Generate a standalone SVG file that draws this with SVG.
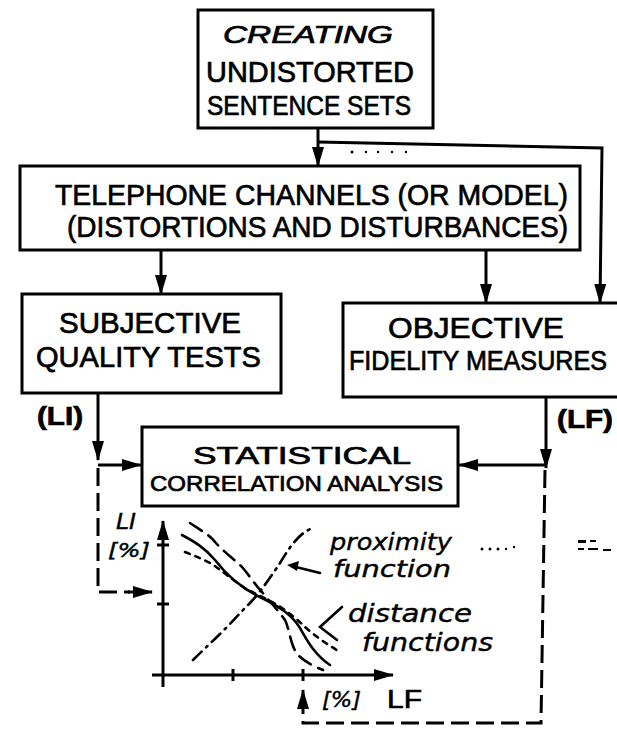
<svg xmlns="http://www.w3.org/2000/svg" width="617" height="732" viewBox="0 0 617 732">
  <defs>
    <marker id="arr" viewBox="0 0 20 12" refX="19" refY="6" markerWidth="20" markerHeight="12" markerUnits="userSpaceOnUse" orient="auto">
      <path d="M0,0 L20,6 L0,12 z" fill="#000"/>
    </marker>
    <style>
      .box { fill: #fff; stroke: #000; stroke-width: 3; }
      .ln { fill: none; stroke: #000; stroke-width: 3; }
      .dash { fill: none; stroke: #000; stroke-width: 3; stroke-dasharray: 18 7; }
      .cap { font-family: "Liberation Sans", "DejaVu Sans", sans-serif; fill: #000; stroke: #000; stroke-width: 0.7; }
      .hand { font-family: "DejaVu Sans", "Liberation Sans", sans-serif; font-style: italic; fill: #000; stroke: #000; stroke-width: 0.4; }
      .crv { fill: none; stroke: #000; stroke-width: 2.6; stroke-linecap: round; }
    </style>
  </defs>
  <rect width="617" height="732" fill="#fff"/>

  <!-- nodes -->
  <g id="create">
    <rect class="box" x="198" y="10" width="235" height="118"/>
    <text class="cap" x="223" y="43" font-size="23" font-style="italic" textLength="170" lengthAdjust="spacingAndGlyphs">CREATING</text>
    <text class="cap" x="206" y="82" font-size="29" textLength="208" lengthAdjust="spacingAndGlyphs">UNDISTORTED</text>
    <text class="cap" x="207" y="115" font-size="28" textLength="204" lengthAdjust="spacingAndGlyphs">SENTENCE SETS</text>
  </g>

  <g id="channels">
    <rect class="box" x="20" y="166" width="560" height="84"/>
    <text class="cap" x="55" y="205" font-size="30" textLength="513" lengthAdjust="spacingAndGlyphs">TELEPHONE CHANNELS (OR MODEL)</text>
    <text class="cap" x="67" y="237" font-size="30" textLength="501" lengthAdjust="spacingAndGlyphs">(DISTORTIONS AND DISTURBANCES)</text>
  </g>

  <g id="subjective">
    <rect class="box" x="22" y="294" width="259" height="99"/>
    <text class="cap" x="59" y="333" font-size="29" textLength="182" lengthAdjust="spacingAndGlyphs">SUBJECTIVE</text>
    <text class="cap" x="36" y="367" font-size="29" textLength="225" lengthAdjust="spacingAndGlyphs">QUALITY TESTS</text>
  </g>

  <g id="objective">
    <rect class="box" x="343" y="303" width="290" height="94"/>
    <text class="cap" x="388" y="338" font-size="29" textLength="176" lengthAdjust="spacingAndGlyphs">OBJECTIVE</text>
    <text class="cap" x="349" y="370" font-size="27" textLength="258" lengthAdjust="spacingAndGlyphs">FIDELITY MEASURES</text>
  </g>

  <g id="statistical">
    <rect class="box" x="142" y="427" width="316" height="79"/>
    <text class="cap" x="193" y="464" font-size="24" textLength="218" lengthAdjust="spacingAndGlyphs">STATISTICAL</text>
    <text class="cap" x="150" y="491" font-size="22" textLength="293" lengthAdjust="spacingAndGlyphs">CORRELATION ANALYSIS</text>
  </g>

  <!-- connectors -->
  <g id="connectors">
    <path class="ln" d="M318,128 V166" marker-end="url(#arr)"/>
    <path class="ln" d="M318,142 L602,148 L600,303" marker-end="url(#arr)"/>
    <path class="ln" d="M161,250 V294" marker-end="url(#arr)"/>
    <path class="ln" d="M486,250 V303" marker-end="url(#arr)"/>
    <path class="ln" d="M98,393 V460" marker-end="url(#arr)"/>
    <path class="ln" d="M98,465 H141" marker-end="url(#arr)"/>
    <path class="ln" d="M546,397 V468" marker-end="url(#arr)"/>
    <path class="ln" d="M546,465 H459" marker-end="url(#arr)"/>
    <path class="dash" d="M98,468 V592 H130"/>
    <path class="ln" d="M128,592 H152" marker-end="url(#arr)"/>
    <path class="dash" d="M545,470 L541,723 H303 V712"/>
    <path class="ln" d="M303,712 V690" marker-end="url(#arr)"/>
    <text class="cap" x="37" y="425" font-size="25" font-weight="bold" textLength="46" lengthAdjust="spacingAndGlyphs">(LI)</text>
    <text class="cap" x="557" y="428" font-size="25" font-weight="bold" textLength="56" lengthAdjust="spacingAndGlyphs">(LF)</text>
    <!-- faint dotted marks -->
    <g fill="#000">
      <circle cx="352" cy="152" r="1.5"/><circle cx="366" cy="152" r="1.2"/><circle cx="378" cy="152" r="1.2"/><circle cx="392" cy="152" r="1.2"/><circle cx="406" cy="152" r="1.2"/>
      <circle cx="482" cy="549" r="1.5"/><circle cx="490" cy="549" r="1.5"/><circle cx="498" cy="549" r="1.5"/><circle cx="506" cy="549" r="1.2"/><circle cx="514" cy="547" r="1.2"/>
      <path d="M578,540 h8 v3 h-8 z M590,540 h6 v2 h-6 z M578,548 h6 v2 h-6 z M588,548 h10 v2 h-10 z M603,549 h8 v2 h-8 z"/>
    </g>
  </g>

  <!-- chart -->
  <g id="chart">
    <path class="ln" d="M163,687 V521" marker-end="url(#arr)"/>
    <path class="ln" d="M152,675 H393" marker-end="url(#arr)"/>
    <path class="ln" d="M157,545 H169 M157,604 H169 M233,669 V681 M303,669 V681"/>
    <text class="hand" x="116" y="529" font-size="21" font-style="normal" textLength="20" lengthAdjust="spacingAndGlyphs">LI</text>
    <text class="hand" x="108" y="557" font-size="20" font-style="normal" textLength="42" lengthAdjust="spacingAndGlyphs">[%]</text>
    <text class="hand" x="322" y="707" font-size="22" font-style="normal" textLength="39" lengthAdjust="spacingAndGlyphs">[%]</text>
    <text class="cap" x="387" y="708" font-size="26" textLength="35" lengthAdjust="spacingAndGlyphs">LF</text>

    <path class="crv" d="M182,535 C195,542 205,548 215,560 C225,573 240,588 262,598 C280,607 292,615 300,628 C308,642 315,655 330,665"/>
    <path class="crv" stroke-dasharray="14 8" d="M190,523 C200,530 210,535 215,542 C225,553 235,560 242,567 C250,576 255,585 262,592 C270,602 278,610 285,620 C290,630 290,645 298,655 C305,662 315,667 323,670"/>
    <path class="crv" stroke-dasharray="5 6" d="M185,552 C195,556 205,560 212,564 C225,573 235,582 245,588 C255,594 270,600 282,608 C292,615 300,622 305,627 C315,636 328,645 340,652"/>
    <path class="crv" stroke-dasharray="12 6 2 6" d="M193,660 C205,648 212,642 220,634 C232,622 240,613 250,603 C262,590 272,575 280,563 C288,550 298,533 313,528"/>

    <path class="crv" d="M320,573 L296,567"/>
    <path d="M287,565 L299,561 L297,571 z" fill="#000"/>
    <path class="crv" d="M342,607 L320,627 L337,640"/>

    <text class="hand" x="330" y="550" font-size="23" textLength="122" lengthAdjust="spacingAndGlyphs">proximity</text>
    <text class="hand" x="333" y="577" font-size="23" textLength="118" lengthAdjust="spacingAndGlyphs">function</text>
    <text class="hand" x="348" y="622" font-size="24" textLength="124" lengthAdjust="spacingAndGlyphs">distance</text>
    <text class="hand" x="362" y="651" font-size="24" textLength="131" lengthAdjust="spacingAndGlyphs">functions</text>
  </g>
</svg>
